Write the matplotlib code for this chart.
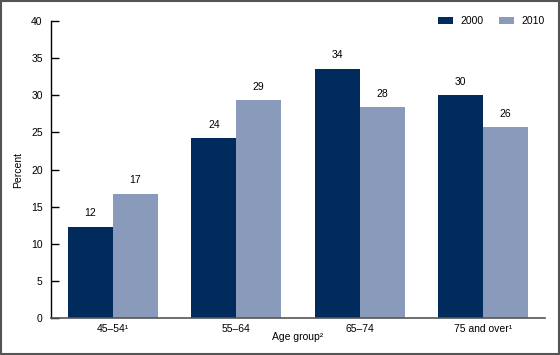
import matplotlib
matplotlib.use("Agg")
import matplotlib.pyplot as plt
import numpy as np
from matplotlib.patches import Rectangle

categories = ["45–54¹", "55–64", "65–74", "75 and over¹"]
series_names = ["2000", "2010"]
values_2000 = [12.3, 24.2, 33.6, 30.0]
values_2010 = [16.7, 29.3, 28.4, 25.7]
labels_2000 = ["12", "24", "34", "30"]
labels_2010 = ["17", "29", "28", "26"]
yticks = [0, 5, 10, 15, 20, 25, 30, 35, 40]

plt.rcParams['font.family'] = ['Liberation Sans', 'DejaVu Sans']
plt.rcParams['font.size'] = 7

c_dark = "#002B5C"
c_light = "#8A9ABA"

fig = plt.figure(figsize=(5.6, 3.55), dpi=100)
ax = fig.add_axes([51/560, 1-318/355, (545-51)/560, (318-21)/355])

x = np.arange(len(categories))
w = 0.363
b1 = ax.bar(x - w/2, values_2000, w, color=c_dark, label=series_names[0])
b2 = ax.bar(x + w/2, values_2010, w, color=c_light, label=series_names[1])
for rect, lab in zip(b1, labels_2000):
    ax.text(rect.get_x() + rect.get_width()/2, rect.get_height() + 1.15, lab,
            ha='center', va='bottom', fontsize=7.5)
for rect, lab in zip(b2, labels_2010):
    ax.text(rect.get_x() + rect.get_width()/2, rect.get_height() + 1.15, lab,
            ha='center', va='bottom', fontsize=7.5)

ax.set_xlim(-0.5, 3.5)
ax.set_ylim(0, 40)
ax.set_yticks(yticks)
ax.set_xticks(x)
ax.set_xticklabels(categories, fontsize=7.5)
ax.tick_params(axis='x', length=0, pad=4)
ax.tick_params(axis='y', direction='in', length=6, width=1, pad=6, labelsize=7.5)
for s in ['top', 'right']:
    ax.spines[s].set_visible(False)
ax.spines['left'].set_linewidth(1)
ax.spines['bottom'].set_linewidth(1.2)
ax.spines['bottom'].set_color('#555555')

ax.set_ylabel("Percent", labelpad=6, fontsize=7.5)
ax.set_xlabel("Age group²", labelpad=-1, fontsize=7.5)

leg = ax.legend(loc='center right', bbox_to_anchor=(1.0, 1.0), ncol=2, frameon=False,
                handlelength=1.45, handleheight=0.7, handletextpad=0.75,
                columnspacing=1.45, borderpad=0, borderaxespad=0, fontsize=7.5)

fig.patches.append(Rectangle((0.001, 0.002), 0.997, 0.995, transform=fig.transFigure,
                             fill=False, edgecolor='#555555', linewidth=1.5))

fig.savefig("out.png", dpi=100)
